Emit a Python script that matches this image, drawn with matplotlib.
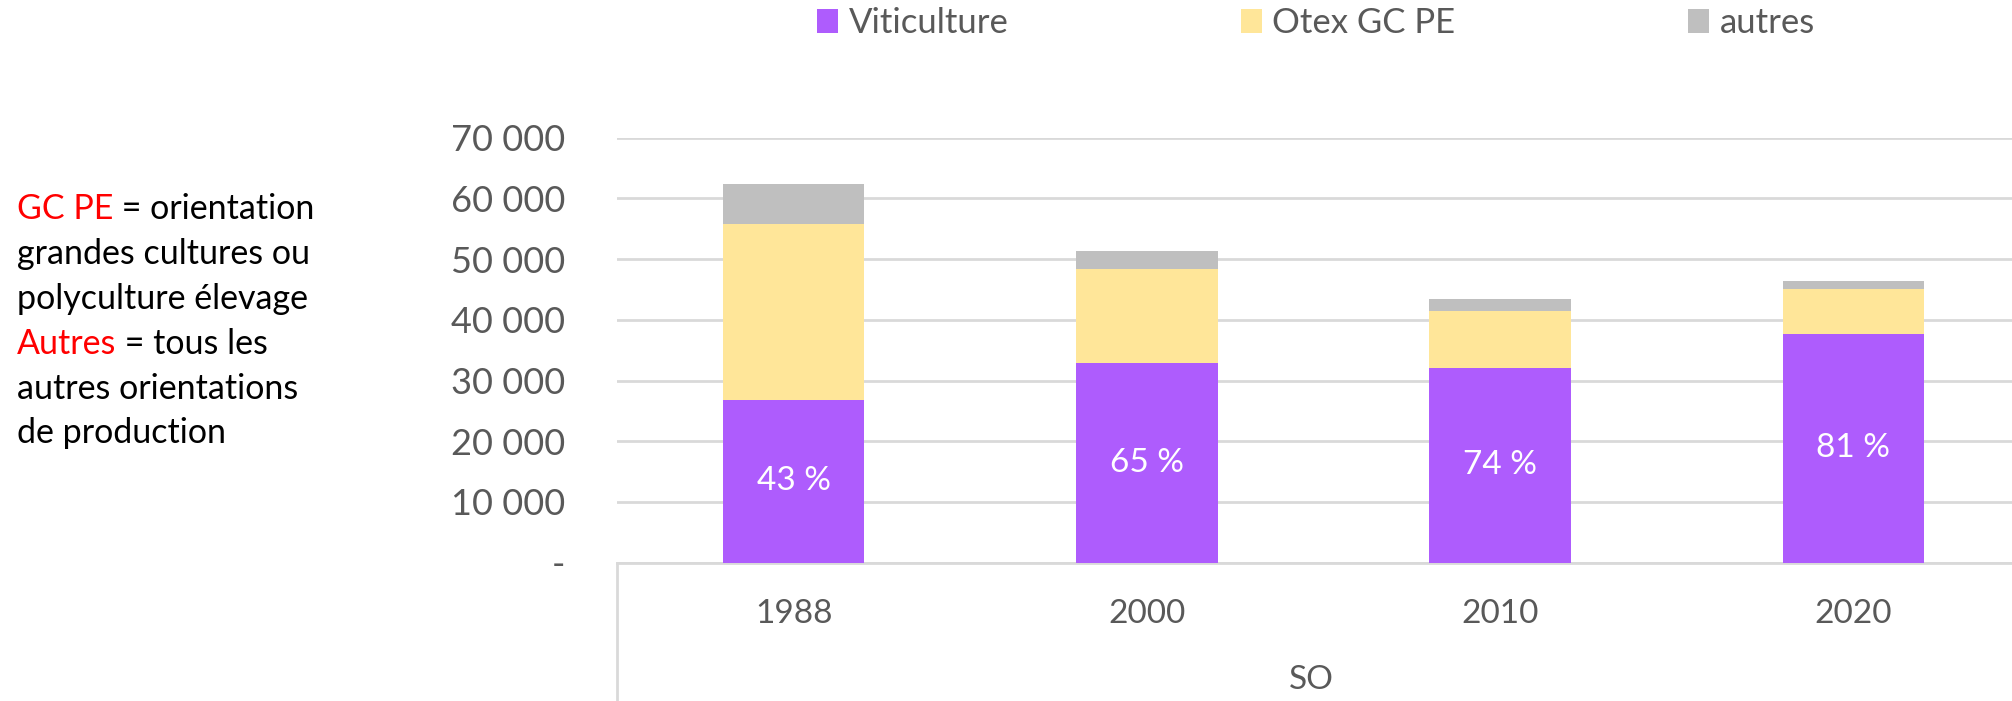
import matplotlib
matplotlib.use("Agg")
import matplotlib.pyplot as plt
from matplotlib.patches import Patch
from matplotlib.lines import Line2D

# data
years = ["1988", "2000", "2010", "2020"]
viticulture = [26800, 32850, 32150, 37750]
otex_gc_pe = [28950, 15450, 9250, 7250]
autres = [6650, 3050, 2000, 1450]
shares = ["43 %", "65 %", "74 %", "81 %"]
series_names = ["Viticulture", "Otex GC PE", "autres"]
yticks = [0, 10000, 20000, 30000, 40000, 50000, 60000, 70000]
ytick_labels = ["-", "10 000", "20 000", "30 000", "40 000", "50 000", "60 000", "70 000"]

purple = "#AE5CFD"
yellow = "#FFE699"
grey = "#BFBFBF"
grid_col = "#D9D9D9"
txt_col = "#595959"

plt.rcParams["font.family"] = ["Lato", "DejaVu Sans"]

W, H = 2012, 701
fig = plt.figure(figsize=(W / 100, H / 100), dpi=100)

# axes in pixel terms: left 617, zero line 562.7, 70000 at 137.7
left, right = 617, 2030
bottom, top = 562.7, 137.7
ax = fig.add_axes([left / W, (H - bottom) / H, (right - left) / W, (bottom - top) / H])

x = range(len(years))
w = 0.40
ax.bar(x, viticulture, w, color=purple, zorder=3)
bottom2 = [v for v in viticulture]
ax.bar(x, otex_gc_pe, w, bottom=bottom2, color=yellow, zorder=3)
bottom3 = [v + o for v, o in zip(viticulture, otex_gc_pe)]
ax.bar(x, autres, w, bottom=bottom3, color=grey, zorder=3)

for i, v in enumerate(viticulture):
    ax.text(i, v / 2, shares[i], ha="center", va="center", color="white", fontsize=24, zorder=4)

ax.set_xlim(-0.5, len(years) - 0.5)
ax.set_ylim(0, 70000)
ax.set_yticks(yticks)
ax.set_yticklabels(ytick_labels)
ax.set_xticks(list(x))
ax.set_xticklabels(years)
ax.tick_params(axis="y", length=0, pad=37, labelsize=26, labelcolor=txt_col)
ax.tick_params(axis="x", length=0, pad=26, labelsize=24, labelcolor=txt_col)
ax.yaxis.grid(True, color=grid_col, linewidth=2, zorder=0)
ax.set_axisbelow(True)
for s in ["top", "right", "left"]:
    ax.spines[s].set_visible(False)
ax.spines["bottom"].set_color(grid_col)
ax.spines["bottom"].set_linewidth(2)

# separator line under the category axis
fig.add_artist(Line2D([left / W, left / W], [0, (H - bottom) / H], color=grid_col, linewidth=2))
fig.text(1311 / W, 1 - 680 / H, "SO", ha="center", va="center", fontsize=24, color=txt_col)

handles = [Patch(facecolor=c, edgecolor="none") for c in (purple, yellow, grey)]
fig.legend(handles, series_names, loc="center", bbox_to_anchor=(1316 / W, 1 - 23 / H), ncol=3,
           frameon=False, fontsize=25, labelcolor=txt_col, handlelength=0.6, handleheight=0.7,
           handletextpad=0.3, columnspacing=6.7)

# side note with red keywords
note = [
    [("GC PE", "red"), (" = orientation", "black")],
    [("grandes cultures ou", "black")],
    [("polyculture élevage", "black")],
    [("Autres", "red"), (" = tous les", "black")],
    [("autres orientations", "black")],
    [("de production", "black")],
]
line_y = [209, 254, 299, 344, 389, 433]
fig.canvas.draw()
renderer = fig.canvas.get_renderer()
for parts, yy in zip(note, line_y):
    xx = 17
    for s, c in parts:
        t = fig.text(xx / W, 1 - yy / H, s, color=c, fontsize=24.5, ha="left", va="center")
        xx += t.get_window_extent(renderer).width

fig.savefig("out.png", dpi=100)
